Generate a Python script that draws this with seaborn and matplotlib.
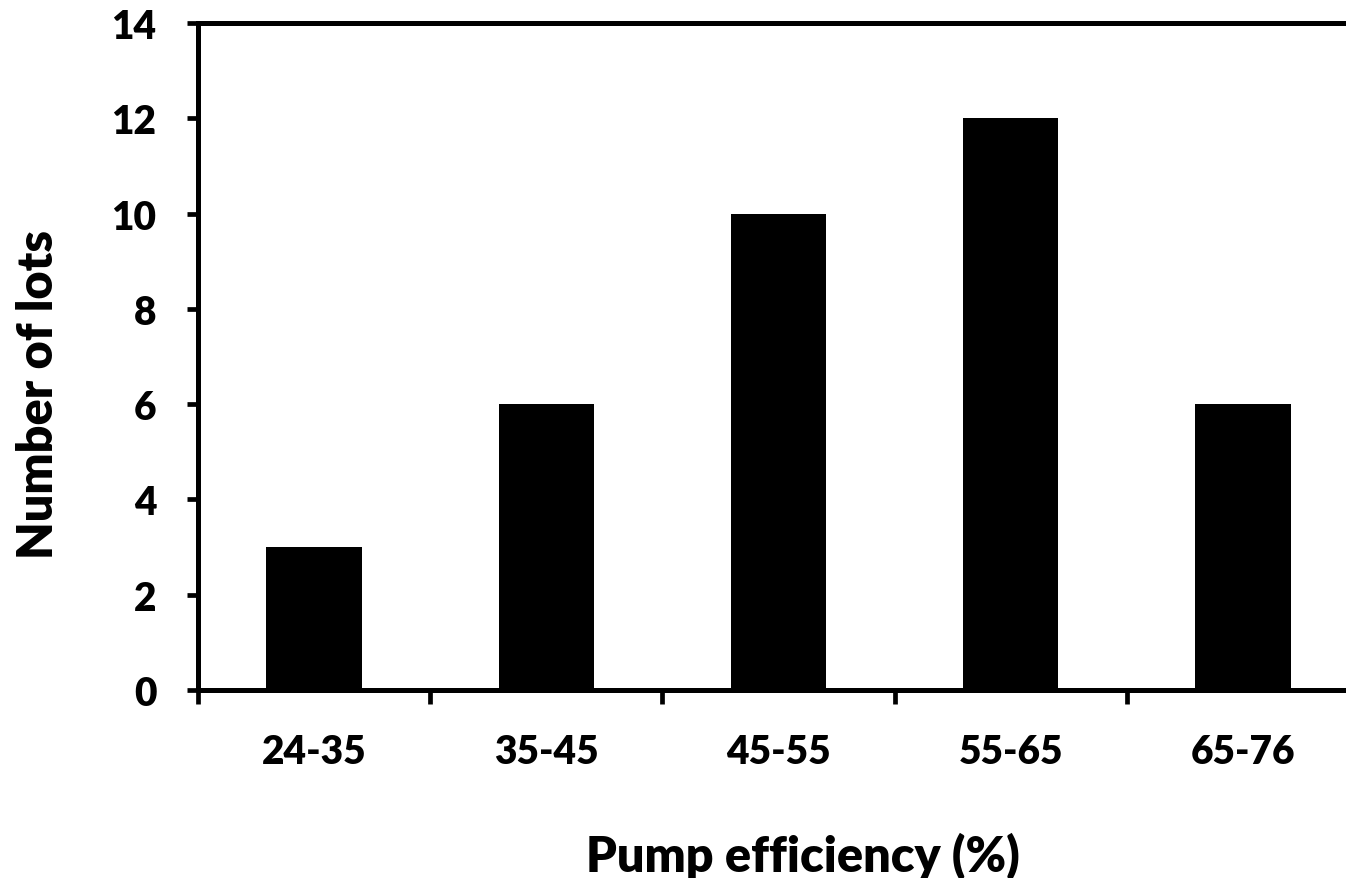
import matplotlib
matplotlib.use("Agg")
import matplotlib.pyplot as plt
import seaborn as sns
import pandas as pd
import numpy as np

categories = ["24-35", "35-45", "45-55", "55-65", "65-76"]
counts = [3, 6, 10, 12, 6]

sns.set_theme(style="white")
plt.rcParams['font.family'] = ['Lato', 'DejaVu Sans']
plt.rcParams['text.color'] = 'black'
plt.rcParams['axes.labelcolor'] = 'black'
plt.rcParams['xtick.color'] = 'black'
plt.rcParams['ytick.color'] = 'black'

W = 'heavy'
df = pd.DataFrame({"range": categories, "count": counts})

fig = plt.figure(figsize=(13.46, 8.79), dpi=100)
ax = fig.add_axes([198/1346, 1-691/879, (1359-198)/1346, (691-24)/879])

sns.barplot(data=df, x="range", y="count", color="black", width=0.41,
            saturation=1, ax=ax, edgecolor="black", linewidth=0)

ax.set_ylim(0, 14)
ax.set_xlim(-0.5, len(categories) - 0.5)
ax.set_yticks(np.arange(0, 15, 2))
ax.tick_params(axis='y', direction='out', length=8, width=3.4, labelsize=28, pad=22, left=True)
ax.tick_params(axis='x', which='major', length=0, labelsize=28, pad=31)
ax.set_xticks(np.arange(-0.5, len(categories), 1), minor=True)
ax.tick_params(axis='x', which='minor', direction='out', length=10, width=3.4, bottom=True)
for lbl in ax.get_xticklabels() + ax.get_yticklabels():
    lbl.set_fontweight(W)

for s in ax.spines.values():
    s.set_linewidth(3.6)
    s.set_color('black')
    s.set_visible(True)

ax.set_xlabel("Pump efficiency (%)", fontsize=35, fontweight=W)
ax.set_ylabel("Number of lots", fontsize=35, fontweight=W)
ax.xaxis.set_label_coords(0.521, -0.212)
ax.yaxis.set_label_coords(-0.118, 0.444)

fig.savefig("out.png", dpi=100)
